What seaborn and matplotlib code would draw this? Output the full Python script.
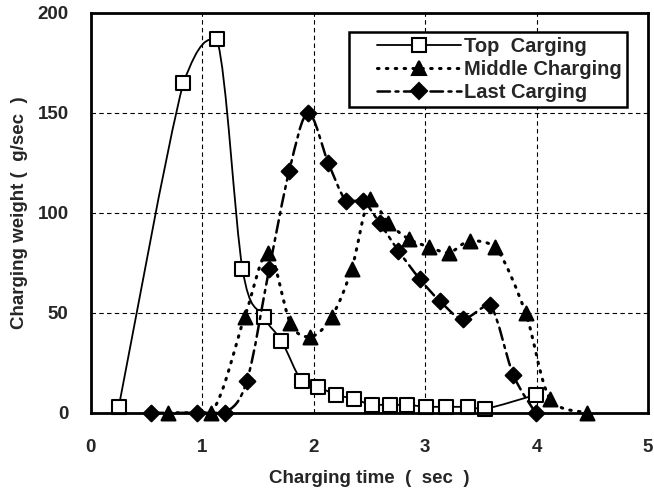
import numpy as np
import pandas as pd
import seaborn as sns
import matplotlib
matplotlib.use("Agg")
import matplotlib.pyplot as plt
from matplotlib.path import Path
from matplotlib.patches import PathPatch
from matplotlib.lines import Line2D
from matplotlib.legend_handler import HandlerLine2D

# data
top_x = [0.25, 0.83, 1.13, 1.36, 1.55, 1.71, 1.89, 2.04, 2.2, 2.36, 2.52, 2.68, 2.84, 3.01, 3.19, 3.38, 3.54, 3.99]
top_y = [3, 165, 187, 72, 48, 36, 16, 13, 9, 7, 4, 4, 4, 3, 3, 3, 2, 9]
mid_x = [0.69, 1.08, 1.38, 1.59, 1.79, 1.97, 2.16, 2.34, 2.5, 2.67, 2.85, 3.03, 3.21, 3.4, 3.63, 3.9, 4.12, 4.45]
mid_y = [0, 0, 48, 80, 45, 38, 48, 72, 107, 95, 87, 83, 80, 86, 83, 50, 7, 0]
last_x = [0.54, 0.95, 1.2, 1.4, 1.6, 1.78, 1.95, 2.13, 2.29, 2.44, 2.59, 2.76, 2.95, 3.13, 3.34, 3.58, 3.79, 3.99]
last_y = [0, 0, 0, 16, 72, 121, 150, 125, 106, 106, 95, 81, 67, 56, 47, 54, 19, 0]
labels = ["Top  Carging", "Middle Charging", "Last Carging"]


def smooth_path(xs, ys):
    # smoothed line: cubic bezier between neighbouring points, no overshoot
    p = np.column_stack([xs, ys]).astype(float)
    n = len(p)
    verts = [p[0]]
    codes = [Path.MOVETO]
    for i in range(n - 1):
        p0 = p[i - 1] if i > 0 else p[i]
        p3 = p[i + 2] if i + 2 < n else p[i + 1]
        c1 = p[i] + (p[i + 1] - p0) / 6
        c2 = p[i + 1] - (p3 - p[i]) / 6
        lo, hi = sorted([p[i][1], p[i + 1][1]])
        c1[1] = np.clip(c1[1], lo, hi)
        c2[1] = np.clip(c2[1], lo, hi)
        verts += [c1, c2, p[i + 1]]
        codes += [Path.CURVE4] * 3
    return Path(verts, codes)


sns.set_style("white")
plt.rcParams['font.family'] = ['Liberation Sans', 'DejaVu Sans']
plt.rcParams['font.weight'] = 'bold'

fig, ax = plt.subplots(figsize=(6.54, 4.95), dpi=100)
fig.subplots_adjust(left=0.139, right=0.991, top=0.974, bottom=0.166)

series = [
    (top_x, top_y, 's', 'white', 9.5, '-', 1.3),
    (mid_x, mid_y, '^', 'black', 10, (0, (0.5, 2.4)), 2.2),
    (last_x, last_y, 'D', 'black', 8, (0, (5, 2.2, 1.2, 2.2)), 1.8),
]
handles = []
for i, (xs, ys, mk, fc, ms, ls, lw) in enumerate(series):
    patch = PathPatch(smooth_path(xs, ys), facecolor='none', edgecolor='black',
                      lw=lw, linestyle=ls, capstyle='round', zorder=2 + i)
    ax.add_patch(patch)
    df = pd.DataFrame({'x': xs, 'y': ys})
    sns.scatterplot(data=df, x='x', y='y', marker=mk, s=ms ** 2, color=fc,
                    edgecolor='black', linewidth=1.5, ax=ax, zorder=2.5 + i, clip_on=False)
    handles.append(Line2D([], [], color='black', lw=lw, linestyle=ls, marker=mk,
                          markersize=ms, markerfacecolor=fc, markeredgecolor='black',
                          markeredgewidth=1.5, dash_capstyle='round'))

ax.set_xlim(0, 5)
ax.set_ylim(0, 200)
ax.set_xticks(range(0, 6))
ax.set_yticks(range(0, 201, 50))
ax.grid(True, color='black', linestyle=(0, (4, 3)), linewidth=0.8)
ax.tick_params(length=0, labelsize=13.5)
ax.tick_params(axis='x', pad=19)
ax.tick_params(axis='y', pad=16)
for sp in ax.spines.values():
    sp.set_linewidth(2)
    sp.set_color('black')

ax.set_xlabel('Charging time  (  sec  )', fontsize=13.5, fontweight='bold', labelpad=10)
ax.set_ylabel('Charging weight (  g/sec  )', fontsize=13.5, fontweight='bold', labelpad=7)

leg = ax.legend(handles, labels, loc='upper right', bbox_to_anchor=(0.962, 0.952),
                handlelength=5.3, fontsize=14.5, frameon=True, fancybox=False,
                borderpad=0.25, labelspacing=0.2, handletextpad=0.15, borderaxespad=0,
                handler_map={Line2D: HandlerLine2D(xpad=1.1)})
leg.get_frame().set_edgecolor('black')
leg.get_frame().set_linewidth(1.8)
leg.get_frame().set_alpha(1)

fig.savefig('out.png', dpi=100)
